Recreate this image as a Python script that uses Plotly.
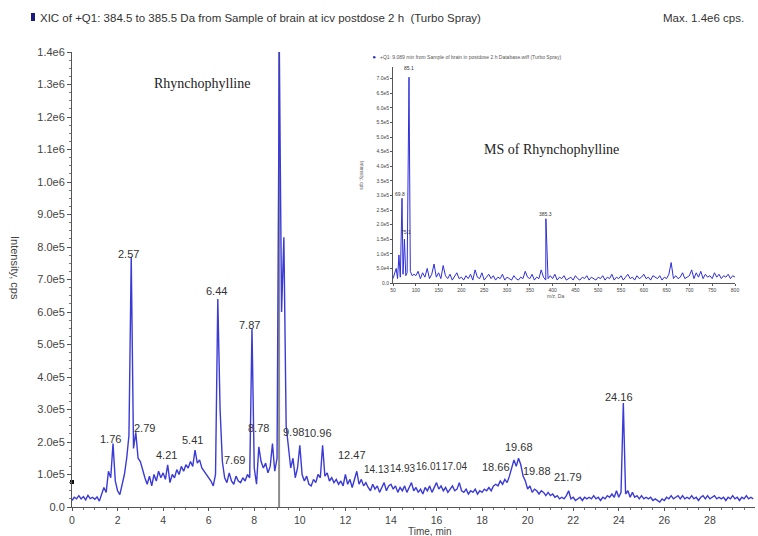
import plotly.graph_objects as go

# ---------------- data ----------------
# XIC chromatogram, intensity in units of 1e4 cps, sampled every 0.1 min from 0.0 to 29.9
xic_1e4 = [
    2.0, 3.0, 2.5, 3.5, 2.5, 3.2, 2.2, 3.6, 2.6, 3.0,
    2.4, 3.1, 1.8, 4.2, 6.0, 4.5, 11.0, 9.0, 19.5, 8.0,
    5.0, 3.8, 6.5, 10.0, 15.0, 22.0, 77.0, 18.0, 23.0, 15.0,
    14.0, 11.0, 9.0, 7.0, 9.5, 6.5, 10.0, 8.0, 11.0, 9.0,
    10.5, 8.5, 13.0, 7.5, 10.0, 9.0, 11.5, 10.0, 12.5, 11.0,
    13.0, 12.0, 14.0, 12.5, 17.5, 13.5, 14.5, 12.0, 11.0, 10.0,
    9.0, 8.0, 6.5, 10.0, 64.0, 30.0, 14.0, 9.0, 7.5, 10.5,
    8.0, 7.0, 9.5, 8.0, 7.5, 9.0, 8.0, 10.0, 9.0, 55.0,
    12.0, 7.0, 18.5, 14.0, 12.0, 13.5, 10.5, 12.5, 19.5, 11.0,
    15.0, 140.0, 60.0, 83.0, 25.0, 19.0, 12.0, 15.0, 9.0, 12.0,
    19.0, 10.0, 8.0, 9.5, 7.0, 6.5, 8.5, 7.5, 10.0, 9.0,
    19.0, 9.5, 10.5, 8.0, 9.0, 7.5, 8.5, 7.0, 8.0, 6.5,
    10.0, 7.0, 8.5, 6.0, 9.0, 11.0, 7.0, 8.5, 6.5, 7.5,
    6.0, 5.0, 7.0, 5.5, 6.5, 4.5, 6.0, 7.5, 5.0, 6.5,
    7.0, 5.5, 6.5, 4.5, 6.0, 5.0, 6.5, 4.5, 6.0, 7.5,
    5.0, 6.0, 4.5, 5.5, 4.0, 6.0, 5.0, 6.5, 4.5, 6.0,
    7.5, 5.5, 6.5, 5.0, 6.0, 4.5, 5.5, 6.5, 5.0, 5.5,
    7.5, 5.0, 4.5, 5.5, 4.0, 5.0, 4.5, 5.5, 4.0, 5.0,
    4.5, 5.5, 5.0, 6.0, 5.0, 6.5, 7.0, 6.5, 8.0, 7.0,
    8.5, 7.5, 9.5, 12.0, 14.5, 12.5, 15.0, 13.0, 9.5, 8.0,
    5.5, 6.5, 4.5, 5.5, 5.0, 4.0, 5.0, 4.5, 3.5, 4.5,
    3.5, 4.0, 3.0, 3.5, 2.5, 3.0, 2.5, 3.5, 5.0, 2.5,
    3.0, 2.0, 2.5, 3.0, 2.0, 3.0, 2.5, 3.0, 2.5, 3.5,
    2.5, 3.0, 2.0, 3.0, 2.5, 3.5, 3.0, 4.0, 3.0, 5.0,
    3.0, 4.5, 32.0, 4.0, 5.0, 3.0, 4.5, 3.0, 3.5, 2.5,
    3.5, 2.5, 3.0, 2.5, 3.0, 2.0, 2.5, 2.0, 1.5, 2.5,
    2.0, 3.0, 2.5, 3.5, 2.5, 3.0, 3.5, 2.5, 3.5, 2.5,
    3.0, 2.5, 3.5, 2.5, 3.0, 2.0, 3.0, 3.5, 2.5, 3.5,
    2.5, 3.0, 3.5, 2.5, 3.0, 2.5, 3.0, 2.0, 3.0, 2.5,
    3.5, 2.5, 3.0, 2.0, 3.0, 2.5, 3.5, 2.5, 3.0, 2.5,
]
time_min = [round(i * 0.1, 1) for i in range(len(xic_1e4))]

# labelled peak retention times (text) and label anchor (time, intensity 1e4 cps)
peak_labels = ["1.76", "2.57", "2.79", "4.21", "5.41", "6.44", "7.69", "7.87", "8.78", "9.09",
               "9.98", "10.96", "12.47", "14.13", "14.93", "16.01", "17.04", "18.66", "19.68",
               "19.88", "21.79", "24.16"]
label_t = [1.71, 2.47, 3.2, 4.13, 5.28, 6.33, 7.14, 7.8, 8.2, 9.0,
           9.74, 10.8, 12.3, 13.35, 14.5, 15.65, 16.8, 18.6, 19.6, 20.4, 21.75, 24.0]
label_y = [20.9, 78, 24.3, 16, 20.6, 66.5, 14.5, 56, 24.3, 141,
           23, 22.8, 16, 11.4, 12, 12.6, 12.6, 12.3, 18.5, 11, 9.2, 34]

y_ticks = [i * 1e5 for i in range(15)]
y_ticktext = ["0.0", "1.0e5", "2.0e5", "3.0e5", "4.0e5", "5.0e5", "6.0e5", "7.0e5", "8.0e5",
              "9.0e5", "1.0e6", "1.1e6", "1.2e6", "1.3e6", "1.4e6"]
x_ticks = [0, 2, 4, 6, 8, 10, 12, 14, 16, 18, 20, 22, 24, 26, 28]

# MS spectrum (inset), intensity in 1e4 cps
ms_low_mz = [50, 53, 57, 60, 63, 66, 69.8, 72, 75.1, 78, 81, 85.1, 88, 92, 96, 385.3]
ms_low_int = [1.5, 3.0, 5.0, 1.5, 9.6, 2.0, 29.0, 3.0, 15.0, 2.5, 3.5, 70.5, 4.0, 2.5, 3.0, 22.0]
ms_grid_mz = list(range(100, 805, 5))
ms_grid_int = [
    2.5, 4.0, 1.5, 3.5, 2.0, 5.0, 1.5, 3.0, 6.5, 2.0, 3.5, 1.5, 6.0, 2.5, 1.5, 3.0, 1.0, 2.5, 3.5, 1.5,
    2.0, 1.0, 2.5, 1.5, 3.0, 1.0, 4.5, 2.0, 1.5, 3.5, 1.0, 2.0, 3.0, 1.5, 2.5, 1.0, 2.0, 1.5, 3.0, 1.0,
    2.0, 1.5, 1.0, 2.5, 1.5, 1.0, 2.0, 1.5, 4.0, 2.0, 1.5, 3.0, 1.0, 2.0, 1.5, 4.5, 2.0, 1.0, 1.5, 2.5,
    1.5, 3.0, 1.0, 2.0, 1.5, 2.5, 1.0, 1.5, 2.0, 1.0, 2.5, 1.5, 1.0, 2.0, 1.5, 2.5, 1.0, 2.0, 1.5, 1.0,
    2.0, 1.5, 2.5, 1.0, 2.0, 1.5, 3.0, 1.0, 2.0, 1.5, 2.5, 1.0, 2.0, 3.0, 1.5, 2.0, 1.0, 2.5, 1.5, 2.0,
    3.0, 1.5, 2.0, 1.0, 2.5, 2.0, 1.5, 2.5, 1.0, 2.0, 1.5, 3.0, 7.0, 1.5, 2.5, 1.5, 2.0, 3.5, 1.5, 2.0,
    2.5, 4.5, 1.5, 3.5, 2.0, 4.0, 1.5, 3.0, 2.0, 2.5, 1.5, 3.5, 2.0, 3.0, 1.5, 2.5, 2.0, 3.0, 1.5, 2.5,
    2.0,
]
ms_labels = ["69.8", "75.1", "85.1", "385.3"]
ms_label_mz = [66, 78, 85.1, 385.3]
ms_label_y = [30.5, 17.5, 73.5, 23.6]

ms_y_ticks = [i * 5e4 for i in range(15)]
ms_y_ticktext = ["0.0", "5.0e4", "1.0e5", "1.5e5", "2.0e5", "2.5e5", "3.0e5", "3.5e5", "4.0e5",
                 "4.5e5", "5.0e5", "5.5e5", "6.0e5", "6.5e5", "7.0e5"]

# ---------------- figure ----------------
W, H = 758, 536
L, R, T, B = 72, 3, 52, 29
PW, PH = W - L - R, H - T - B


def px_x(p):
    return (p - L) / PW


def px_y(p):
    return (H - B - p) / PH


FONT = "Liberation Sans, Arial, sans-serif"
SERIF = "Liberation Serif, Times New Roman, serif"
BLUE = "#3a3ad6"
CROWDED = {"14.13", "14.93", "16.01", "17.04"}

ms_pairs = sorted(zip(ms_low_mz + ms_grid_mz, ms_low_int + ms_grid_int))

fig = go.Figure()
fig.add_trace(go.Scatter(
    x=time_min, y=[v * 1e4 for v in xic_1e4], mode="lines",
    line=dict(color=BLUE, width=1.4), xaxis="x", yaxis="y", hoverinfo="skip", showlegend=False))
fig.add_trace(go.Scatter(
    x=[0], y=[7.7e4], mode="markers", marker=dict(symbol="square", size=4, color="#111"),
    xaxis="x", yaxis="y", cliponaxis=False, hoverinfo="skip", showlegend=False))
fig.add_trace(go.Scatter(
    x=[p[0] for p in ms_pairs], y=[p[1] * 1e4 for p in ms_pairs], mode="lines",
    line=dict(color="#2f2fd8", width=1), xaxis="x2", yaxis="y2", hoverinfo="skip", showlegend=False))

annotations = []
for txt, t, y in zip(peak_labels, label_t, label_y):
    annotations.append(dict(x=t, y=y * 1e4, xref="x", yref="y", text=txt, showarrow=False,
                            xanchor="center", yanchor="middle",
                            font=dict(family=FONT, size=10 if txt in CROWDED else 11, color="#333")))
for txt, m, y in zip(ms_labels, ms_label_mz, ms_label_y):
    annotations.append(dict(x=m, y=y * 1e4, xref="x2", yref="y2", text=txt, showarrow=False,
                            xanchor="center", yanchor="middle",
                            font=dict(family=FONT, size=5, color="#333")))


def note(x, y, text, size, family=FONT, color="#333", xanchor="center", angle=0):
    return dict(x=px_x(x), y=px_y(y), xref="paper", yref="paper", xanchor=xanchor, yanchor="middle",
                text=text, showarrow=False, textangle=angle,
                font=dict(family=family, size=size, color=color))


annotations += [
    note(38, 18, "XIC of +Q1: 384.5 to 385.5 Da from Sample of brain at icv postdose 2 h  (Turbo Spray)",
         11.5, xanchor="left"),
    note(746, 18, "Max. 1.4e6 cps.", 11.5, xanchor="right"),
    note(15, 268, "Intensity, cps", 11, color="#444", angle=90),
    note(430, 531, "Time, min", 10, color="#444"),
    note(202, 84, "Rhynchophylline", 14, family=SERIF, color="#222"),
    note(551, 149, "MS of Rhynchophylline", 14, family=SERIF, color="#222"),
    note(378, 57, "+Q1: 9.089 min from Sample of brain in postdose 2 h Database.wiff (Turbo Spray)",
         5, color="#555", xanchor="left"),
    note(362, 175, "Intensity, cps", 5, color="#555", angle=90),
    note(555, 296, "m/z, Da", 5, color="#555"),
]

shapes = [
    dict(type="line", xref="x", yref="y", x0=9.09, x1=9.09, y0=0, y1=1.4e6,
         line=dict(color="#8c8c8c", width=2), layer="below"),
    dict(type="rect", xref="paper", yref="paper", x0=px_x(31), x1=px_x(35), y0=px_y(21), y1=px_y(13),
         fillcolor="#1a1a80", line=dict(width=0)),
    dict(type="circle", xref="paper", yref="paper", x0=px_x(373), x1=px_x(375.5), y0=px_y(58.5),
         y1=px_y(56), fillcolor="#2f2fd8", line=dict(width=0)),
]

axis_common = dict(showline=True, linecolor="#555", linewidth=1, ticks="outside", tickcolor="#555",
                   showgrid=False, zeroline=False, automargin=False)

fig.update_layout(
    width=W, height=H, margin=dict(l=L, r=R, t=T, b=B, autoexpand=False),
    paper_bgcolor="white", plot_bgcolor="white",
    font=dict(family=FONT, color="#444"),
    xaxis=dict(domain=[0, 1], range=[0, 29.98], tickvals=x_ticks, ticklen=3,
               minor=dict(ticks="outside", ticklen=2, dtick=0.5, tickcolor="#777"),
               tickfont=dict(size=10.5, color="#444"), anchor="y", **axis_common),
    yaxis=dict(domain=[0, 1], range=[0, 1.4e6], tickvals=y_ticks, ticktext=y_ticktext, ticklen=4,
               minor=dict(ticks="outside", ticklen=2, dtick=2.5e4, tickcolor="#777"),
               tickfont=dict(size=11, color="#444"), anchor="x", **axis_common),
    xaxis2=dict(domain=[px_x(393), px_x(735)], range=[50, 800], tick0=50, dtick=50, ticklen=2,
                tickfont=dict(size=5, color="#444"), anchor="y2", **axis_common),
    yaxis2=dict(domain=[px_y(283), px_y(67)], range=[0, 7.4e5], tickvals=ms_y_ticks,
                ticktext=ms_y_ticktext, ticklen=2, tickfont=dict(size=5, color="#444"),
                anchor="x2", **axis_common),
    annotations=annotations, shapes=shapes, showlegend=False,
)

fig.write_html("out.html", config={"displayModeBar": False},
               post_script="document.body.style.margin='0';")
